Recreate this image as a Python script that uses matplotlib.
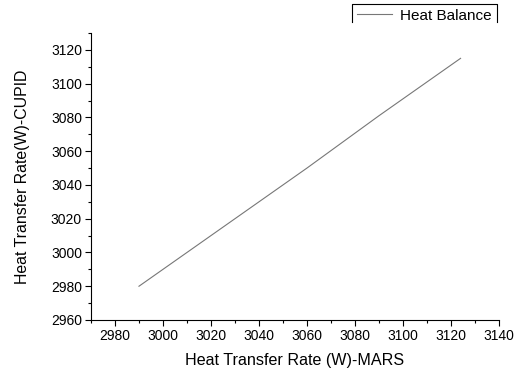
import matplotlib
matplotlib.use("Agg")
import matplotlib.pyplot as plt
from matplotlib.lines import Line2D
from matplotlib.ticker import MultipleLocator

plt.rcParams['font.family'] = ['Liberation Sans', 'DejaVu Sans']

# heat transfer rates
mars_w = [2990, 3030, 3060, 3090, 3124]
cupid_w = [2980, 3020, 3050, 3081, 3115]

fig = plt.figure(figsize=(5.28, 3.71), dpi=100)
ax = fig.add_axes([0.1723, 0.1375, 0.7727, 0.7735])

ax.plot(mars_w, cupid_w, color='#777777', lw=0.8, label='Heat Balance')

ax.set_xlim(2970, 3140)
ax.set_ylim(2960, 3130)
ax.xaxis.set_major_locator(MultipleLocator(20))
ax.xaxis.set_minor_locator(MultipleLocator(10))
ax.yaxis.set_major_locator(MultipleLocator(20))
ax.yaxis.set_minor_locator(MultipleLocator(10))

for s in ['top', 'right']:
    ax.spines[s].set_visible(False)
for s in ['left', 'bottom']:
    ax.spines[s].set_linewidth(0.8)

ax.tick_params(which='major', direction='out', length=4, width=0.8, labelsize=10, pad=2.5)
ax.tick_params(which='minor', direction='out', length=2.5, width=0.8)

ax.set_xlabel('Heat Transfer Rate (W)-MARS', fontsize=11.6, labelpad=7)
ax.set_ylabel('Heat Transfer Rate(W)-CUPID', fontsize=11.4, labelpad=15)

# legend sitting at top, box cut off below
h, l = ax.get_legend_handles_labels()
leg = fig.legend(h, l, loc='center left', bbox_to_anchor=(0.665, 0.958),
                 frameon=False, fontsize=11, handlelength=2.3, handletextpad=0.5,
                 borderaxespad=0)
W, H = 528, 371
bx = [352 / W, 352 / W, 497 / W, 497 / W]
by = [1 - 22 / H, 1 - 4 / H, 1 - 4 / H, 1 - 22 / H]
fig.add_artist(Line2D(bx, by, transform=fig.transFigure, color='black', lw=0.8))

fig.savefig('out.png', dpi=100)
